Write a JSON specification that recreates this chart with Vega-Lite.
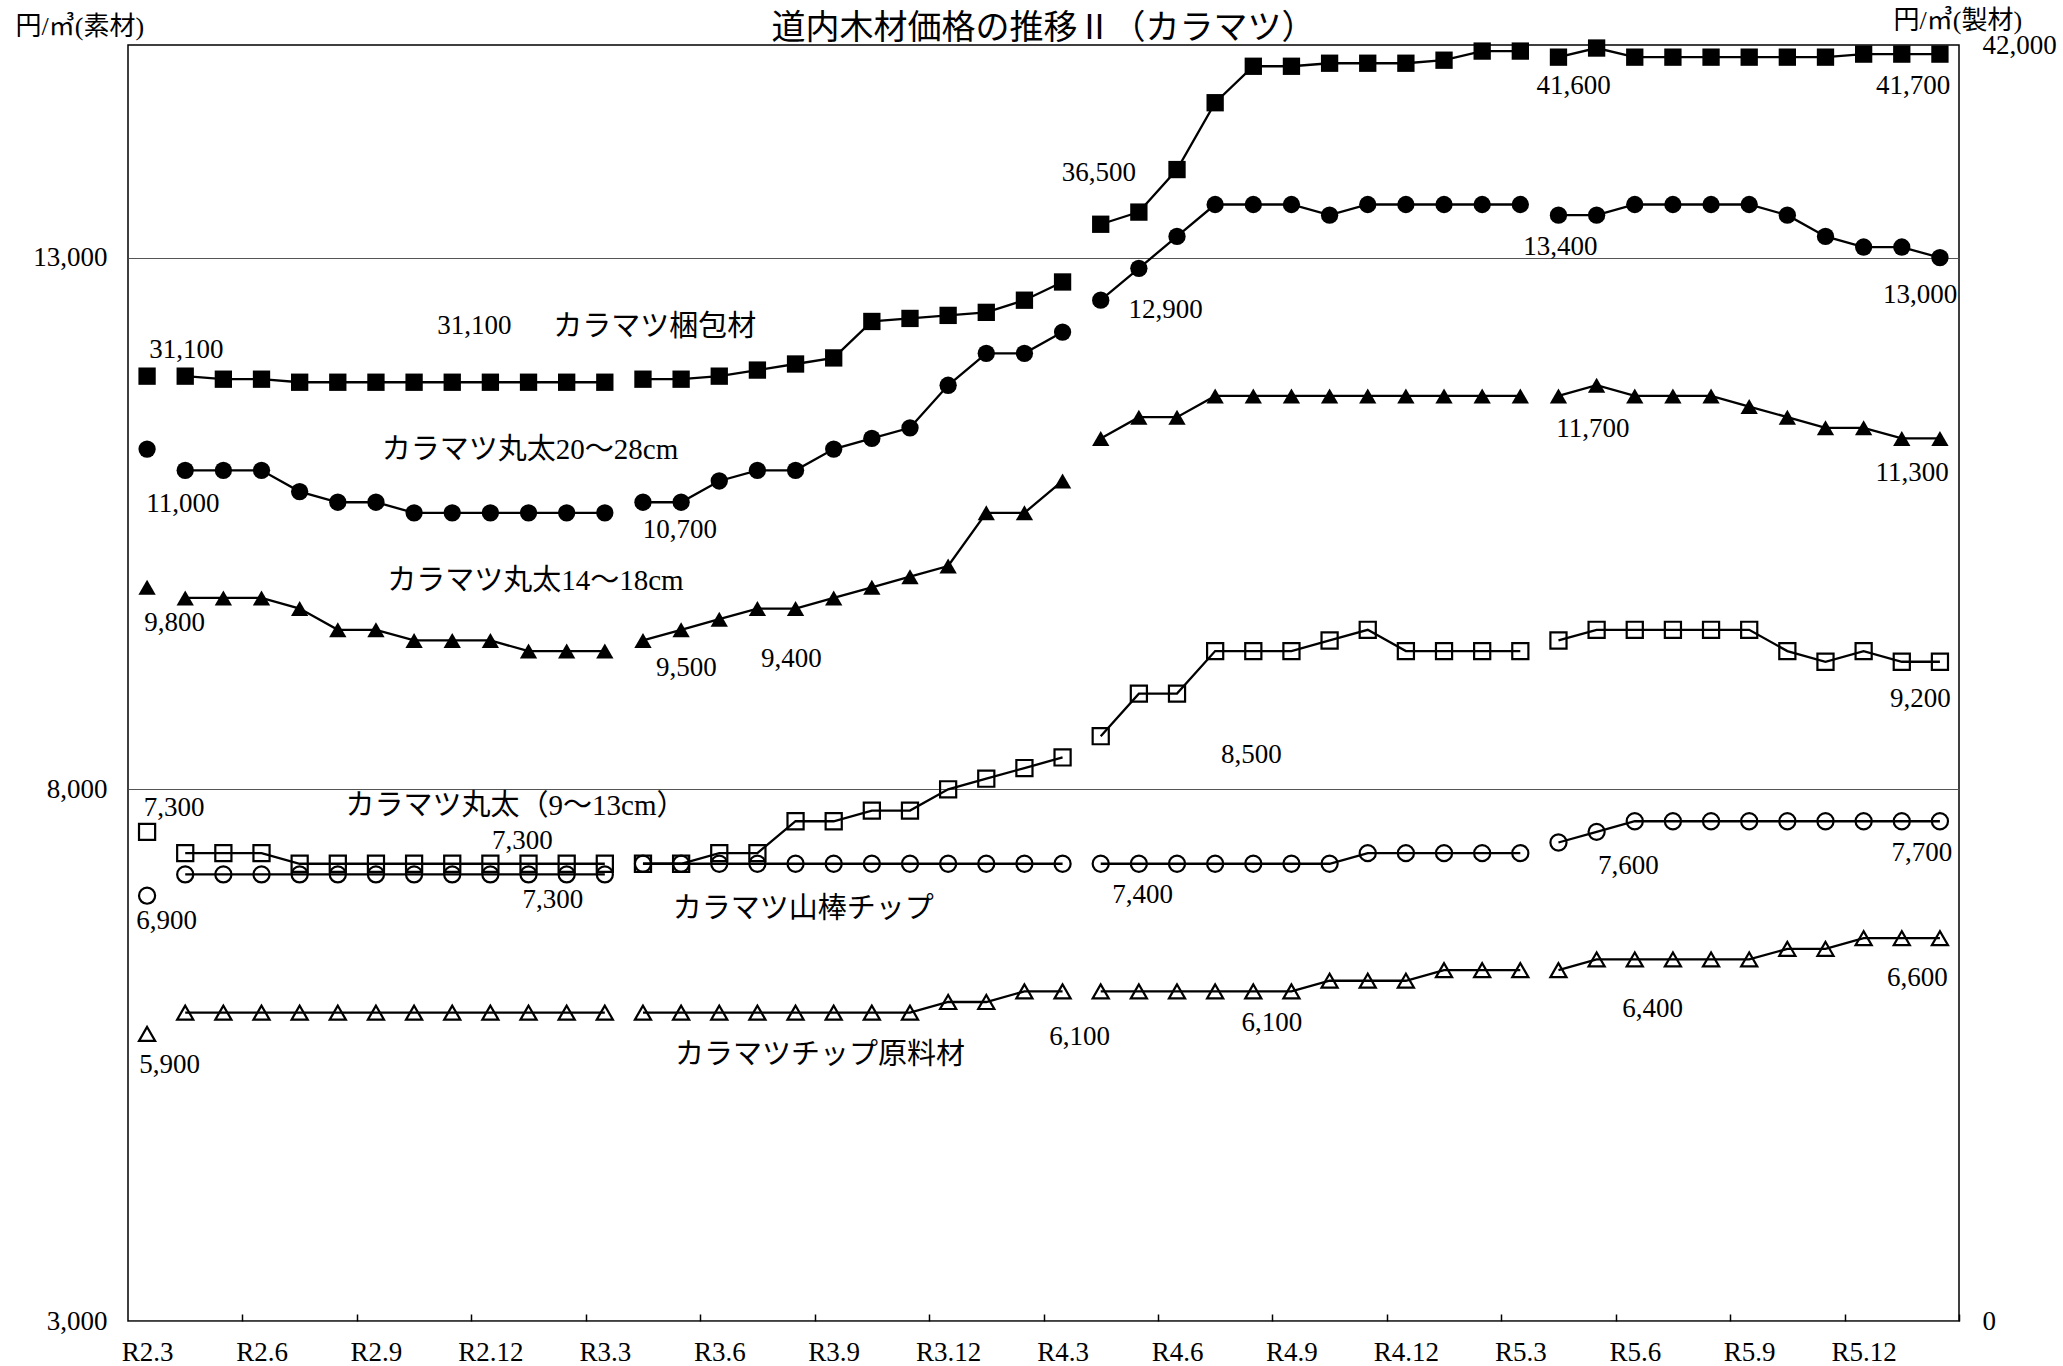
{
"$schema":"https://vega.github.io/schema/vega-lite/v6.json",
"width":1831,"height":1276,
"autosize":{"type":"none"},
"padding":{"left":128,"top":45,"right":104,"bottom":45},
"background":"white",
"config":{"view":{"stroke":"black","strokeWidth":1.5},"font":"'Liberation Serif', 'Noto Sans CJK JP'"},
"title":{"text":"道内木材価格の推移Ⅱ（カラマツ）","font":"'Noto Sans CJK JP'","fontSize":34,"fontWeight":"normal","color":"black","anchor":"middle","frame":"group","offset":4,"dy":43},
"datasets":{
"p":[
{"s":"梱包材","i":0,"f":1,"v":31100},{"s":"梱包材","i":1,"f":2,"v":31100},{"s":"梱包材","i":2,"f":2,"v":31000},{"s":"梱包材","i":3,"f":2,"v":31000},{"s":"梱包材","i":4,"f":2,"v":30900},{"s":"梱包材","i":5,"f":2,"v":30900},{"s":"梱包材","i":6,"f":2,"v":30900},{"s":"梱包材","i":7,"f":2,"v":30900},{"s":"梱包材","i":8,"f":2,"v":30900},{"s":"梱包材","i":9,"f":2,"v":30900},{"s":"梱包材","i":10,"f":2,"v":30900},{"s":"梱包材","i":11,"f":2,"v":30900},{"s":"梱包材","i":12,"f":2,"v":30900},
{"s":"梱包材","i":13,"f":3,"v":31000},{"s":"梱包材","i":14,"f":3,"v":31000},{"s":"梱包材","i":15,"f":3,"v":31100},{"s":"梱包材","i":16,"f":3,"v":31300},{"s":"梱包材","i":17,"f":3,"v":31500},{"s":"梱包材","i":18,"f":3,"v":31700},{"s":"梱包材","i":19,"f":3,"v":32900},{"s":"梱包材","i":20,"f":3,"v":33000},{"s":"梱包材","i":21,"f":3,"v":33100},{"s":"梱包材","i":22,"f":3,"v":33200},{"s":"梱包材","i":23,"f":3,"v":33600},{"s":"梱包材","i":24,"f":3,"v":34200},
{"s":"梱包材","i":25,"f":4,"v":36100},{"s":"梱包材","i":26,"f":4,"v":36500},{"s":"梱包材","i":27,"f":4,"v":37900},{"s":"梱包材","i":28,"f":4,"v":40100},{"s":"梱包材","i":29,"f":4,"v":41300},{"s":"梱包材","i":30,"f":4,"v":41300},{"s":"梱包材","i":31,"f":4,"v":41400},{"s":"梱包材","i":32,"f":4,"v":41400},{"s":"梱包材","i":33,"f":4,"v":41400},{"s":"梱包材","i":34,"f":4,"v":41500},{"s":"梱包材","i":35,"f":4,"v":41800},{"s":"梱包材","i":36,"f":4,"v":41800},
{"s":"梱包材","i":37,"f":5,"v":41600},{"s":"梱包材","i":38,"f":5,"v":41900},{"s":"梱包材","i":39,"f":5,"v":41600},{"s":"梱包材","i":40,"f":5,"v":41600},{"s":"梱包材","i":41,"f":5,"v":41600},{"s":"梱包材","i":42,"f":5,"v":41600},{"s":"梱包材","i":43,"f":5,"v":41600},{"s":"梱包材","i":44,"f":5,"v":41600},{"s":"梱包材","i":45,"f":5,"v":41700},{"s":"梱包材","i":46,"f":5,"v":41700},{"s":"梱包材","i":47,"f":5,"v":41700},

{"s":"丸太20〜28cm","i":0,"f":1,"v":11200},{"s":"丸太20〜28cm","i":1,"f":2,"v":11000},{"s":"丸太20〜28cm","i":2,"f":2,"v":11000},{"s":"丸太20〜28cm","i":3,"f":2,"v":11000},{"s":"丸太20〜28cm","i":4,"f":2,"v":10800},{"s":"丸太20〜28cm","i":5,"f":2,"v":10700},{"s":"丸太20〜28cm","i":6,"f":2,"v":10700},{"s":"丸太20〜28cm","i":7,"f":2,"v":10600},{"s":"丸太20〜28cm","i":8,"f":2,"v":10600},{"s":"丸太20〜28cm","i":9,"f":2,"v":10600},{"s":"丸太20〜28cm","i":10,"f":2,"v":10600},{"s":"丸太20〜28cm","i":11,"f":2,"v":10600},{"s":"丸太20〜28cm","i":12,"f":2,"v":10600},
{"s":"丸太20〜28cm","i":13,"f":3,"v":10700},{"s":"丸太20〜28cm","i":14,"f":3,"v":10700},{"s":"丸太20〜28cm","i":15,"f":3,"v":10900},{"s":"丸太20〜28cm","i":16,"f":3,"v":11000},{"s":"丸太20〜28cm","i":17,"f":3,"v":11000},{"s":"丸太20〜28cm","i":18,"f":3,"v":11200},{"s":"丸太20〜28cm","i":19,"f":3,"v":11300},{"s":"丸太20〜28cm","i":20,"f":3,"v":11400},{"s":"丸太20〜28cm","i":21,"f":3,"v":11800},{"s":"丸太20〜28cm","i":22,"f":3,"v":12100},{"s":"丸太20〜28cm","i":23,"f":3,"v":12100},{"s":"丸太20〜28cm","i":24,"f":3,"v":12300},
{"s":"丸太20〜28cm","i":25,"f":4,"v":12600},{"s":"丸太20〜28cm","i":26,"f":4,"v":12900},{"s":"丸太20〜28cm","i":27,"f":4,"v":13200},{"s":"丸太20〜28cm","i":28,"f":4,"v":13500},{"s":"丸太20〜28cm","i":29,"f":4,"v":13500},{"s":"丸太20〜28cm","i":30,"f":4,"v":13500},{"s":"丸太20〜28cm","i":31,"f":4,"v":13400},{"s":"丸太20〜28cm","i":32,"f":4,"v":13500},{"s":"丸太20〜28cm","i":33,"f":4,"v":13500},{"s":"丸太20〜28cm","i":34,"f":4,"v":13500},{"s":"丸太20〜28cm","i":35,"f":4,"v":13500},{"s":"丸太20〜28cm","i":36,"f":4,"v":13500},
{"s":"丸太20〜28cm","i":37,"f":5,"v":13400},{"s":"丸太20〜28cm","i":38,"f":5,"v":13400},{"s":"丸太20〜28cm","i":39,"f":5,"v":13500},{"s":"丸太20〜28cm","i":40,"f":5,"v":13500},{"s":"丸太20〜28cm","i":41,"f":5,"v":13500},{"s":"丸太20〜28cm","i":42,"f":5,"v":13500},{"s":"丸太20〜28cm","i":43,"f":5,"v":13400},{"s":"丸太20〜28cm","i":44,"f":5,"v":13200},{"s":"丸太20〜28cm","i":45,"f":5,"v":13100},{"s":"丸太20〜28cm","i":46,"f":5,"v":13100},{"s":"丸太20〜28cm","i":47,"f":5,"v":13000},

{"s":"丸太14〜18cm","i":0,"f":1,"v":9900},{"s":"丸太14〜18cm","i":1,"f":2,"v":9800},{"s":"丸太14〜18cm","i":2,"f":2,"v":9800},{"s":"丸太14〜18cm","i":3,"f":2,"v":9800},{"s":"丸太14〜18cm","i":4,"f":2,"v":9700},{"s":"丸太14〜18cm","i":5,"f":2,"v":9500},{"s":"丸太14〜18cm","i":6,"f":2,"v":9500},{"s":"丸太14〜18cm","i":7,"f":2,"v":9400},{"s":"丸太14〜18cm","i":8,"f":2,"v":9400},{"s":"丸太14〜18cm","i":9,"f":2,"v":9400},{"s":"丸太14〜18cm","i":10,"f":2,"v":9300},{"s":"丸太14〜18cm","i":11,"f":2,"v":9300},{"s":"丸太14〜18cm","i":12,"f":2,"v":9300},
{"s":"丸太14〜18cm","i":13,"f":3,"v":9400},{"s":"丸太14〜18cm","i":14,"f":3,"v":9500},{"s":"丸太14〜18cm","i":15,"f":3,"v":9600},{"s":"丸太14〜18cm","i":16,"f":3,"v":9700},{"s":"丸太14〜18cm","i":17,"f":3,"v":9700},{"s":"丸太14〜18cm","i":18,"f":3,"v":9800},{"s":"丸太14〜18cm","i":19,"f":3,"v":9900},{"s":"丸太14〜18cm","i":20,"f":3,"v":10000},{"s":"丸太14〜18cm","i":21,"f":3,"v":10100},{"s":"丸太14〜18cm","i":22,"f":3,"v":10600},{"s":"丸太14〜18cm","i":23,"f":3,"v":10600},{"s":"丸太14〜18cm","i":24,"f":3,"v":10900},
{"s":"丸太14〜18cm","i":25,"f":4,"v":11300},{"s":"丸太14〜18cm","i":26,"f":4,"v":11500},{"s":"丸太14〜18cm","i":27,"f":4,"v":11500},{"s":"丸太14〜18cm","i":28,"f":4,"v":11700},{"s":"丸太14〜18cm","i":29,"f":4,"v":11700},{"s":"丸太14〜18cm","i":30,"f":4,"v":11700},{"s":"丸太14〜18cm","i":31,"f":4,"v":11700},{"s":"丸太14〜18cm","i":32,"f":4,"v":11700},{"s":"丸太14〜18cm","i":33,"f":4,"v":11700},{"s":"丸太14〜18cm","i":34,"f":4,"v":11700},{"s":"丸太14〜18cm","i":35,"f":4,"v":11700},{"s":"丸太14〜18cm","i":36,"f":4,"v":11700},
{"s":"丸太14〜18cm","i":37,"f":5,"v":11700},{"s":"丸太14〜18cm","i":38,"f":5,"v":11800},{"s":"丸太14〜18cm","i":39,"f":5,"v":11700},{"s":"丸太14〜18cm","i":40,"f":5,"v":11700},{"s":"丸太14〜18cm","i":41,"f":5,"v":11700},{"s":"丸太14〜18cm","i":42,"f":5,"v":11600},{"s":"丸太14〜18cm","i":43,"f":5,"v":11500},{"s":"丸太14〜18cm","i":44,"f":5,"v":11400},{"s":"丸太14〜18cm","i":45,"f":5,"v":11400},{"s":"丸太14〜18cm","i":46,"f":5,"v":11300},{"s":"丸太14〜18cm","i":47,"f":5,"v":11300},

{"s":"丸太9〜13cm","i":0,"f":1,"v":7600},{"s":"丸太9〜13cm","i":1,"f":2,"v":7400},{"s":"丸太9〜13cm","i":2,"f":2,"v":7400},{"s":"丸太9〜13cm","i":3,"f":2,"v":7400},{"s":"丸太9〜13cm","i":4,"f":2,"v":7300},{"s":"丸太9〜13cm","i":5,"f":2,"v":7300},{"s":"丸太9〜13cm","i":6,"f":2,"v":7300},{"s":"丸太9〜13cm","i":7,"f":2,"v":7300},{"s":"丸太9〜13cm","i":8,"f":2,"v":7300},{"s":"丸太9〜13cm","i":9,"f":2,"v":7300},{"s":"丸太9〜13cm","i":10,"f":2,"v":7300},{"s":"丸太9〜13cm","i":11,"f":2,"v":7300},{"s":"丸太9〜13cm","i":12,"f":2,"v":7300},
{"s":"丸太9〜13cm","i":13,"f":3,"v":7300},{"s":"丸太9〜13cm","i":14,"f":3,"v":7300},{"s":"丸太9〜13cm","i":15,"f":3,"v":7400},{"s":"丸太9〜13cm","i":16,"f":3,"v":7400},{"s":"丸太9〜13cm","i":17,"f":3,"v":7700},{"s":"丸太9〜13cm","i":18,"f":3,"v":7700},{"s":"丸太9〜13cm","i":19,"f":3,"v":7800},{"s":"丸太9〜13cm","i":20,"f":3,"v":7800},{"s":"丸太9〜13cm","i":21,"f":3,"v":8000},{"s":"丸太9〜13cm","i":22,"f":3,"v":8100},{"s":"丸太9〜13cm","i":23,"f":3,"v":8200},{"s":"丸太9〜13cm","i":24,"f":3,"v":8300},
{"s":"丸太9〜13cm","i":25,"f":4,"v":8500},{"s":"丸太9〜13cm","i":26,"f":4,"v":8900},{"s":"丸太9〜13cm","i":27,"f":4,"v":8900},{"s":"丸太9〜13cm","i":28,"f":4,"v":9300},{"s":"丸太9〜13cm","i":29,"f":4,"v":9300},{"s":"丸太9〜13cm","i":30,"f":4,"v":9300},{"s":"丸太9〜13cm","i":31,"f":4,"v":9400},{"s":"丸太9〜13cm","i":32,"f":4,"v":9500},{"s":"丸太9〜13cm","i":33,"f":4,"v":9300},{"s":"丸太9〜13cm","i":34,"f":4,"v":9300},{"s":"丸太9〜13cm","i":35,"f":4,"v":9300},{"s":"丸太9〜13cm","i":36,"f":4,"v":9300},
{"s":"丸太9〜13cm","i":37,"f":5,"v":9400},{"s":"丸太9〜13cm","i":38,"f":5,"v":9500},{"s":"丸太9〜13cm","i":39,"f":5,"v":9500},{"s":"丸太9〜13cm","i":40,"f":5,"v":9500},{"s":"丸太9〜13cm","i":41,"f":5,"v":9500},{"s":"丸太9〜13cm","i":42,"f":5,"v":9500},{"s":"丸太9〜13cm","i":43,"f":5,"v":9300},{"s":"丸太9〜13cm","i":44,"f":5,"v":9200},{"s":"丸太9〜13cm","i":45,"f":5,"v":9300},{"s":"丸太9〜13cm","i":46,"f":5,"v":9200},{"s":"丸太9〜13cm","i":47,"f":5,"v":9200},

{"s":"山棒チップ","i":0,"f":1,"v":7000},{"s":"山棒チップ","i":1,"f":2,"v":7200},{"s":"山棒チップ","i":2,"f":2,"v":7200},{"s":"山棒チップ","i":3,"f":2,"v":7200},{"s":"山棒チップ","i":4,"f":2,"v":7200},{"s":"山棒チップ","i":5,"f":2,"v":7200},{"s":"山棒チップ","i":6,"f":2,"v":7200},{"s":"山棒チップ","i":7,"f":2,"v":7200},{"s":"山棒チップ","i":8,"f":2,"v":7200},{"s":"山棒チップ","i":9,"f":2,"v":7200},{"s":"山棒チップ","i":10,"f":2,"v":7200},{"s":"山棒チップ","i":11,"f":2,"v":7200},{"s":"山棒チップ","i":12,"f":2,"v":7200},
{"s":"山棒チップ","i":13,"f":3,"v":7300},{"s":"山棒チップ","i":14,"f":3,"v":7300},{"s":"山棒チップ","i":15,"f":3,"v":7300},{"s":"山棒チップ","i":16,"f":3,"v":7300},{"s":"山棒チップ","i":17,"f":3,"v":7300},{"s":"山棒チップ","i":18,"f":3,"v":7300},{"s":"山棒チップ","i":19,"f":3,"v":7300},{"s":"山棒チップ","i":20,"f":3,"v":7300},{"s":"山棒チップ","i":21,"f":3,"v":7300},{"s":"山棒チップ","i":22,"f":3,"v":7300},{"s":"山棒チップ","i":23,"f":3,"v":7300},{"s":"山棒チップ","i":24,"f":3,"v":7300},
{"s":"山棒チップ","i":25,"f":4,"v":7300},{"s":"山棒チップ","i":26,"f":4,"v":7300},{"s":"山棒チップ","i":27,"f":4,"v":7300},{"s":"山棒チップ","i":28,"f":4,"v":7300},{"s":"山棒チップ","i":29,"f":4,"v":7300},{"s":"山棒チップ","i":30,"f":4,"v":7300},{"s":"山棒チップ","i":31,"f":4,"v":7300},{"s":"山棒チップ","i":32,"f":4,"v":7400},{"s":"山棒チップ","i":33,"f":4,"v":7400},{"s":"山棒チップ","i":34,"f":4,"v":7400},{"s":"山棒チップ","i":35,"f":4,"v":7400},{"s":"山棒チップ","i":36,"f":4,"v":7400},
{"s":"山棒チップ","i":37,"f":5,"v":7500},{"s":"山棒チップ","i":38,"f":5,"v":7600},{"s":"山棒チップ","i":39,"f":5,"v":7700},{"s":"山棒チップ","i":40,"f":5,"v":7700},{"s":"山棒チップ","i":41,"f":5,"v":7700},{"s":"山棒チップ","i":42,"f":5,"v":7700},{"s":"山棒チップ","i":43,"f":5,"v":7700},{"s":"山棒チップ","i":44,"f":5,"v":7700},{"s":"山棒チップ","i":45,"f":5,"v":7700},{"s":"山棒チップ","i":46,"f":5,"v":7700},{"s":"山棒チップ","i":47,"f":5,"v":7700},

{"s":"チップ原料材","i":0,"f":1,"v":5700},{"s":"チップ原料材","i":1,"f":2,"v":5900},{"s":"チップ原料材","i":2,"f":2,"v":5900},{"s":"チップ原料材","i":3,"f":2,"v":5900},{"s":"チップ原料材","i":4,"f":2,"v":5900},{"s":"チップ原料材","i":5,"f":2,"v":5900},{"s":"チップ原料材","i":6,"f":2,"v":5900},{"s":"チップ原料材","i":7,"f":2,"v":5900},{"s":"チップ原料材","i":8,"f":2,"v":5900},{"s":"チップ原料材","i":9,"f":2,"v":5900},{"s":"チップ原料材","i":10,"f":2,"v":5900},{"s":"チップ原料材","i":11,"f":2,"v":5900},{"s":"チップ原料材","i":12,"f":2,"v":5900},
{"s":"チップ原料材","i":13,"f":3,"v":5900},{"s":"チップ原料材","i":14,"f":3,"v":5900},{"s":"チップ原料材","i":15,"f":3,"v":5900},{"s":"チップ原料材","i":16,"f":3,"v":5900},{"s":"チップ原料材","i":17,"f":3,"v":5900},{"s":"チップ原料材","i":18,"f":3,"v":5900},{"s":"チップ原料材","i":19,"f":3,"v":5900},{"s":"チップ原料材","i":20,"f":3,"v":5900},{"s":"チップ原料材","i":21,"f":3,"v":6000},{"s":"チップ原料材","i":22,"f":3,"v":6000},{"s":"チップ原料材","i":23,"f":3,"v":6100},{"s":"チップ原料材","i":24,"f":3,"v":6100},
{"s":"チップ原料材","i":25,"f":4,"v":6100},{"s":"チップ原料材","i":26,"f":4,"v":6100},{"s":"チップ原料材","i":27,"f":4,"v":6100},{"s":"チップ原料材","i":28,"f":4,"v":6100},{"s":"チップ原料材","i":29,"f":4,"v":6100},{"s":"チップ原料材","i":30,"f":4,"v":6100},{"s":"チップ原料材","i":31,"f":4,"v":6200},{"s":"チップ原料材","i":32,"f":4,"v":6200},{"s":"チップ原料材","i":33,"f":4,"v":6200},{"s":"チップ原料材","i":34,"f":4,"v":6300},{"s":"チップ原料材","i":35,"f":4,"v":6300},{"s":"チップ原料材","i":36,"f":4,"v":6300},
{"s":"チップ原料材","i":37,"f":5,"v":6300},{"s":"チップ原料材","i":38,"f":5,"v":6400},{"s":"チップ原料材","i":39,"f":5,"v":6400},{"s":"チップ原料材","i":40,"f":5,"v":6400},{"s":"チップ原料材","i":41,"f":5,"v":6400},{"s":"チップ原料材","i":42,"f":5,"v":6400},{"s":"チップ原料材","i":43,"f":5,"v":6500},{"s":"チップ原料材","i":44,"f":5,"v":6500},{"s":"チップ原料材","i":45,"f":5,"v":6600},{"s":"チップ原料材","i":46,"f":5,"v":6600},{"s":"チップ原料材","i":47,"f":5,"v":6600}
],
"ann":[
{"t":"31,100","i":1.03,"v":12130,"k":"v"},
{"t":"31,100","i":8.58,"v":12355,"k":"v"},
{"t":"36,500","i":24.95,"v":13800,"k":"v"},
{"t":"12,900","i":26.7,"v":12510,"k":"v"},
{"t":"13,400","i":37.05,"v":13100,"k":"v"},
{"t":"41,600","i":37.4,"v":14610,"k":"v"},
{"t":"41,700","i":46.3,"v":14610,"k":"v"},
{"t":"13,000","i":46.48,"v":12650,"k":"v"},
{"t":"11,700","i":37.9,"v":11385,"k":"v"},
{"t":"11,300","i":46.27,"v":10975,"k":"v"},
{"t":"9,200","i":46.49,"v":8850,"k":"v"},
{"t":"7,700","i":46.53,"v":7405,"k":"v"},
{"t":"7,600","i":38.83,"v":7275,"k":"v"},
{"t":"6,400","i":39.47,"v":5935,"k":"v"},
{"t":"6,600","i":46.41,"v":6225,"k":"v"},
{"t":"6,100","i":29.49,"v":5805,"k":"v"},
{"t":"6,100","i":24.45,"v":5675,"k":"v"},
{"t":"7,400","i":26.1,"v":7010,"k":"v"},
{"t":"8,500","i":28.95,"v":8325,"k":"v"},
{"t":"7,300","i":0.71,"v":7820,"k":"v"},
{"t":"7,300","i":9.84,"v":7510,"k":"v"},
{"t":"7,300","i":10.64,"v":6960,"k":"v"},
{"t":"6,900","i":0.51,"v":6765,"k":"v"},
{"t":"5,900","i":0.59,"v":5405,"k":"v"},
{"t":"11,000","i":0.94,"v":10685,"k":"v"},
{"t":"9,800","i":0.72,"v":9560,"k":"v"},
{"t":"10,700","i":13.97,"v":10435,"k":"v"},
{"t":"9,500","i":14.14,"v":9140,"k":"v"},
{"t":"9,400","i":16.89,"v":9230,"k":"v"},
{"t":"カラマツ梱包材","i":13.31,"v":12350,"k":"n"},
{"t":"カラマツ丸太20〜28cm","i":10.04,"v":11195,"k":"n"},
{"t":"カラマツ丸太14〜18cm","i":10.18,"v":9960,"k":"n"},
{"t":"カラマツ丸太（9〜13cm）","i":9.66,"v":7845,"k":"n"},
{"t":"カラマツ山棒チップ","i":17.2,"v":6870,"k":"n"},
{"t":"カラマツチップ原料材","i":17.64,"v":5505,"k":"n"}
]
},
"encoding":{
"x":{"field":"i","type":"quantitative","scale":{"domain":[-0.5,47.5],"nice":false,"zero":false},
"axis":{"values":[0,3,6,9,12,15,18,21,24,27,30,33,36,39,42,45],"labelExpr":"'R' + (2 + floor((datum.value + 2) / 12)) + '.' + ((datum.value + 2) % 12 + 1)","title":null,"domain":false,"grid":false,"ticks":true,"tickSize":-7,"tickWidth":1.5,"tickColor":"black","tickOffset":95.4,"labelOffset":-95.4,"labelPadding":25,"labelFont":"'Liberation Serif'","labelFontSize":27,"labelColor":"black","labelFlush":false,"labelOverlap":false}}
},
"layer":[
{
"encoding":{"y":{"field":"v","type":"quantitative","scale":{"domain":[3000,15000],"nice":false,"zero":false},
"axis":{"values":[3000,8000,13000],"format":",d","grid":true,"gridColor":"#555555","gridWidth":1.2,"ticks":false,"domain":false,"labelPadding":21,"labelFont":"'Liberation Serif'","labelFontSize":27,"labelColor":"black","labelFlush":false,
"title":"円/㎥(素材)","titleAngle":0,"titleAlign":"left","titleBaseline":"alphabetic","titleX":-113,"titleY":-11,"titleFont":"'Liberation Serif', 'Noto Sans CJK JP'","titleFontSize":26,"titleFontWeight":"normal","titleColor":"black"}}},
"layer":[
{"data":{"name":"p"},"transform":[{"filter":"datum.s !== '梱包材'"}],
"mark":{"type":"line","color":"black","strokeWidth":2.3},
"encoding":{"detail":[{"field":"s"},{"field":"f"}]}},
{"data":{"name":"p"},"transform":[{"filter":{"field":"s","oneOf":["丸太20〜28cm","丸太14〜18cm"]}}],
"mark":{"type":"point","filled":true,"color":"black","opacity":1,"size":300},
"encoding":{"shape":{"field":"s","scale":{"domain":["梱包材","丸太20〜28cm","丸太14〜18cm","丸太9〜13cm","山棒チップ","チップ原料材"],"range":["square","circle","triangle-up","square","circle","triangle-up"]},"legend":null}}},
{"data":{"name":"p"},"transform":[{"filter":{"field":"s","oneOf":["丸太9〜13cm","山棒チップ","チップ原料材"]}}],
"mark":{"type":"point","filled":false,"color":"black","opacity":1,"size":260,"strokeWidth":2.2},
"encoding":{"shape":{"field":"s","scale":{"domain":["梱包材","丸太20〜28cm","丸太14〜18cm","丸太9〜13cm","山棒チップ","チップ原料材"],"range":["square","circle","triangle-up","square","circle","triangle-up"]},"legend":null}}},
{"data":{"name":"ann"},"transform":[{"filter":"datum.k === 'v'"}],
"mark":{"type":"text","font":"'Liberation Serif'","fontSize":27,"color":"black","align":"center","baseline":"middle"},
"encoding":{"text":{"field":"t"}}},
{"data":{"name":"ann"},"transform":[{"filter":"datum.k === 'n'"}],
"mark":{"type":"text","font":"'Liberation Serif', 'Noto Sans CJK JP'","fontSize":29,"color":"black","align":"center","baseline":"middle"},
"encoding":{"text":{"field":"t"}}}
]
},
{
"data":{"name":"p"},"transform":[{"filter":"datum.s === '梱包材'"}],
"encoding":{"y":{"field":"v","type":"quantitative","scale":{"domain":[0,42000],"nice":false,"zero":false},
"axis":{"orient":"right","values":[0,42000],"format":",d","grid":false,"ticks":false,"domain":false,"labelPadding":23,"labelFont":"'Liberation Serif'","labelFontSize":27,"labelColor":"black","labelFlush":false,
"title":"円/㎥(製材)","titleAngle":0,"titleAlign":"left","titleBaseline":"alphabetic","titleX":-66,"titleY":-17,"titleFont":"'Liberation Serif', 'Noto Sans CJK JP'","titleFontSize":26,"titleFontWeight":"normal","titleColor":"black"}}},
"layer":[
{"mark":{"type":"line","color":"black","strokeWidth":2.3},"encoding":{"detail":{"field":"f"}}},
{"mark":{"type":"point","filled":true,"color":"black","opacity":1,"size":300},
"encoding":{"shape":{"field":"s","scale":{"domain":["梱包材","丸太20〜28cm","丸太14〜18cm","丸太9〜13cm","山棒チップ","チップ原料材"],"range":["square","circle","triangle-up","square","circle","triangle-up"]},"legend":null}}}
]
}
],
"resolve":{"scale":{"y":"independent"}}
}
